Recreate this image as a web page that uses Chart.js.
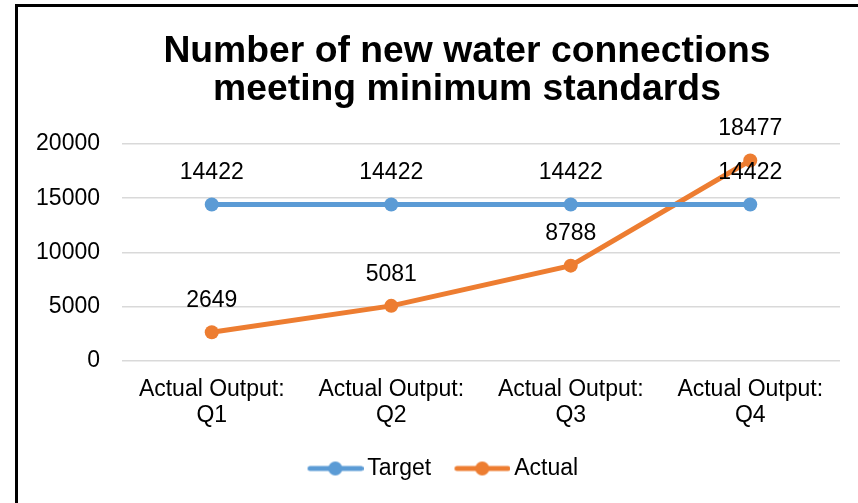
<!DOCTYPE html>
<html>
<head>
<meta charset="utf-8">
<script src="https://cdn.jsdelivr.net/npm/chart.js@4/dist/chart.umd.min.js"></script>
<style>
  html, body { margin: 0; padding: 0; background: #fff; }
  #c { display: block; }
</style>
</head>
<body>
<canvas id="c" width="858" height="503"></canvas>
<script>
const titleLines = ['Number of new water connections', 'meeting minimum standards'];
const categories = [
  ['Actual Output:', 'Q1'],
  ['Actual Output:', 'Q2'],
  ['Actual Output:', 'Q3'],
  ['Actual Output:', 'Q4']
];
const targetValues = [14422, 14422, 14422, 14422];
const actualValues = [2649, 5081, 8788, 18477];
const yTicks = [0, 5000, 10000, 15000, 20000];

const FONT = "'Liberation Sans', Arial, sans-serif";
const BLUE = '#5B9BD5';
const ORANGE = '#ED7D31';

function legendGlyph(color) {
  const cv = document.createElement('canvas');
  cv.width = 77; cv.height = 16;
  const g = cv.getContext('2d');
  g.strokeStyle = color;
  g.lineWidth = 5;
  g.lineCap = 'round';
  g.beginPath();
  g.moveTo(23.5, 8);
  g.lineTo(74.5, 8);
  g.stroke();
  g.fillStyle = color;
  g.beginPath();
  g.arc(48.75, 8, 7, 0, Math.PI * 2);
  g.fill();
  return cv;
}
const glyphs = [legendGlyph(BLUE), legendGlyph(ORANGE)];

const framePlugin = {
  id: 'frame',
  beforeDraw(chart) {
    const ctx = chart.ctx;
    ctx.save();
    ctx.fillStyle = '#fff';
    ctx.fillRect(0, 0, chart.width, chart.height);
    ctx.fillStyle = '#000';
    ctx.fillRect(15, 4, chart.width - 15, 3);
    ctx.fillRect(15, 4, 3, chart.height - 4);
    ctx.restore();
  }
};

const shiftPlugin = {
  id: 'shift',
  afterLayout(chart) {
    if (chart.titleBlock) chart.titleBlock.left = 94;
    if (chart.legend) chart.legend.left += 12.4;
  }
};

const labelPlugin = {
  id: 'valueLabels',
  afterDatasetsDraw(chart) {
    const ctx = chart.ctx;
    ctx.save();
    ctx.font = '23px ' + FONT;
    ctx.fillStyle = '#000';
    ctx.textAlign = 'center';
    ctx.textBaseline = 'middle';
    chart.data.datasets.forEach((ds, i) => {
      const meta = chart.getDatasetMeta(i);
      meta.data.forEach((pt, j) => {
        ctx.fillText(String(ds.data[j]), pt.x, pt.y - 31.5);
      });
    });
    ctx.restore();
  }
};

new Chart(document.getElementById('c'), {
  type: 'line',
  data: {
    labels: categories,
    datasets: [
      {
        label: 'Target',
        data: targetValues,
        borderColor: BLUE,
        backgroundColor: BLUE,
        borderWidth: 5,
        pointRadius: 7,
        pointBorderWidth: 0,
        pointBackgroundColor: BLUE,
        tension: 0
      },
      {
        label: 'Actual',
        data: actualValues,
        borderColor: ORANGE,
        backgroundColor: ORANGE,
        borderWidth: 5,
        pointRadius: 7,
        pointBorderWidth: 0,
        pointBackgroundColor: ORANGE,
        tension: 0
      }
    ]
  },
  options: {
    responsive: false,
    animation: false,
    layout: { padding: { left: 20, right: 18, top: 0, bottom: 13 } },
    plugins: {
      title: {
        display: true,
        text: titleLines,
        color: '#000',
        font: { family: FONT, size: 37.3, weight: 'bold', lineHeight: 1.02 },
        padding: { top: 32.5, bottom: 35.4 }
      },
      legend: {
        position: 'bottom',
        labels: {
          usePointStyle: true,
          pointStyleWidth: 61.5,
          padding: 10,
          color: '#000',
          font: { family: FONT, size: 23 },
          generateLabels(chart) {
            const items = Chart.defaults.plugins.legend.labels.generateLabels(chart);
            items.forEach((it, i) => { it.pointStyle = glyphs[i]; });
            return items;
          }
        }
      },
      tooltip: { enabled: false }
    },
    scales: {
      x: {
        offset: true,
        grid: { display: false, drawTicks: false },
        border: { display: false },
        ticks: {
          color: '#000',
          padding: 16,
          maxRotation: 0,
          autoSkip: false,
          font: { family: FONT, size: 23, lineHeight: 1.13 }
        },
        afterFit(scale) { scale.height = 86; }
      },
      y: {
        min: 0,
        max: 20000,
        afterBuildTicks(scale) { scale.ticks = yTicks.map(v => ({ value: v })); },
        grid: { color: '#d9d9d9', lineWidth: 1.5, drawTicks: false },
        border: { display: false },
        ticks: {
          color: '#000',
          padding: 22,
          font: { family: FONT, size: 23 },
          callback: (v) => String(v)
        },
        afterFit(scale) { scale.width = 102; }
      }
    }
  },
  plugins: [framePlugin, shiftPlugin, labelPlugin]
});
</script>
</body>
</html>
